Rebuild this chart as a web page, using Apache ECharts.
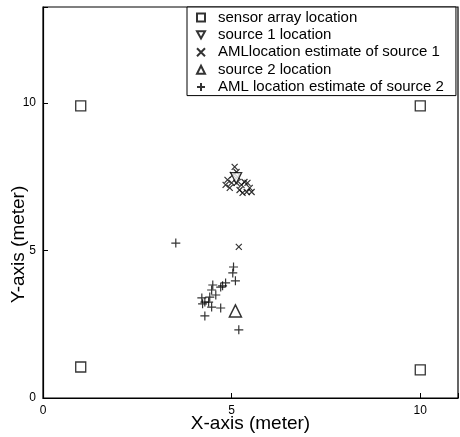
<!DOCTYPE html>
<html><head><meta charset="utf-8">
<script src="https://cdn.jsdelivr.net/npm/echarts@6/dist/echarts.min.js"></script>
<style>html,body{margin:0;padding:0;background:#fff}#c{width:460px;height:437px}</style>
</head><body><div id="c"></div>
<script>
const sensors = [[1.0, 9.9], [10.0, 9.9], [1.0, 1.05], [10.0, 0.95]];
const source1 = [[5.12, 7.45]];
const est1 = [[5.08,7.83],[5.13,7.66],[5.03,7.56],[5.16,7.49],[4.89,7.39],[5.0,7.29],[4.84,7.22],[4.95,7.12],[5.13,7.29],[5.26,7.22],[5.34,7.32],[5.42,7.29],[5.48,7.12],[5.4,6.98],[5.29,6.95],[5.21,7.05],[5.53,6.98],[5.19,5.12]];
const source2 = [[5.1, 2.95]];
const est2 = [[5.05,4.44],[5.03,4.24],[5.1,3.97],[4.84,3.9],[4.76,3.8],[4.71,3.76],[4.5,3.83],[4.47,3.66],[4.58,3.49],[4.42,3.42],[4.21,3.39],[4.29,3.25],[4.39,3.25],[4.23,3.19],[4.47,3.08],[4.71,3.05],[4.29,2.78],[5.19,2.31],[3.52,5.25]];
const xTicks = [0, 5, 10];
const yTicks = [0, 5, 10];
const legendNames = ['sensor array location','source 1 location','AMLlocation estimate of source 1','source 2 location','AML location estimate of source 2'];

const F = '"Liberation Sans", Arial, sans-serif';
const ch = echarts.init(document.getElementById('c'));
const lineStyle = {color:'transparent', borderColor:'#000', borderWidth:1.2};
ch.setOption({
  animation:false,
  grid:{left:43, right:2, top:7, bottom:39, containLabel:false, outerBoundsMode:'none',
    show:true, borderColor:'#000', borderWidth:1.2},
  legend:{
    orient:'vertical', left:187, top:7,
    backgroundColor:'#fff', borderColor:'#000', borderWidth:1,
    padding:[3,12,1,9], itemGap:2.4, itemWidth:8, itemHeight:8,
    textStyle:{fontFamily:F, fontSize:15, color:'#000', padding:[0,0,0,8]},
    data:legendNames
  },
  xAxis:{type:'value', min:0, max:11, interval:5,
    axisLine:{show:true, lineStyle:{color:'#000', width:1.2}},
    axisTick:{inside:true, length:5, lineStyle:{color:'#000'}},
    splitLine:{show:false},
    axisLabel:{fontFamily:F, fontSize:12, color:'#000', margin:7,
      formatter:v=>xTicks.includes(v)?String(v):''},
    name:'X-axis (meter)', nameLocation:'middle', nameGap:16, nameMoveOverlap:false,
    nameTextStyle:{fontFamily:F, fontSize:19, color:'#000'}
  },
  yAxis:{type:'value', min:0, max:13.25, interval:5,
    axisLine:{show:true, lineStyle:{color:'#000', width:1.2}},
    axisTick:{inside:true, length:5, lineStyle:{color:'#000'}},
    splitLine:{show:false},
    axisLabel:{fontFamily:F, fontSize:12, color:'#000', margin:7,
      formatter:v=>yTicks.includes(v)?String(v):''},
    name:'Y-axis (meter)', nameLocation:'middle', nameGap:15, nameMoveOverlap:false,
    nameTextStyle:{fontFamily:F, fontSize:19, color:'#000', padding:[0,84,0,0]}
  },
  series:[
    {name:legendNames[0], type:'scatter', data:sensors, symbol:'rect', symbolSize:10,
      itemStyle:{color:'#fff', borderColor:'#000', borderWidth:1.3}},
    {name:legendNames[1], type:'scatter', data:source1, symbol:'path://M0,0L10,0L5,9Z', symbolSize:11,
      itemStyle:{color:'#fff', borderColor:'#000', borderWidth:1.3}, z:5},
    {name:legendNames[2], type:'scatter', data:est1, symbol:'path://M0,0L10,10M10,0L0,10', symbolSize:6,
      itemStyle:lineStyle},
    {name:legendNames[3], type:'scatter', data:source2, symbol:'triangle', symbolSize:12,
      itemStyle:{color:'#fff', borderColor:'#000', borderWidth:1.5}},
    {name:legendNames[4], type:'scatter', data:est2, symbol:'path://M5,0L5,10M0,5L10,5', symbolSize:9,
      itemStyle:lineStyle}
  ]
});
</script></body></html>
